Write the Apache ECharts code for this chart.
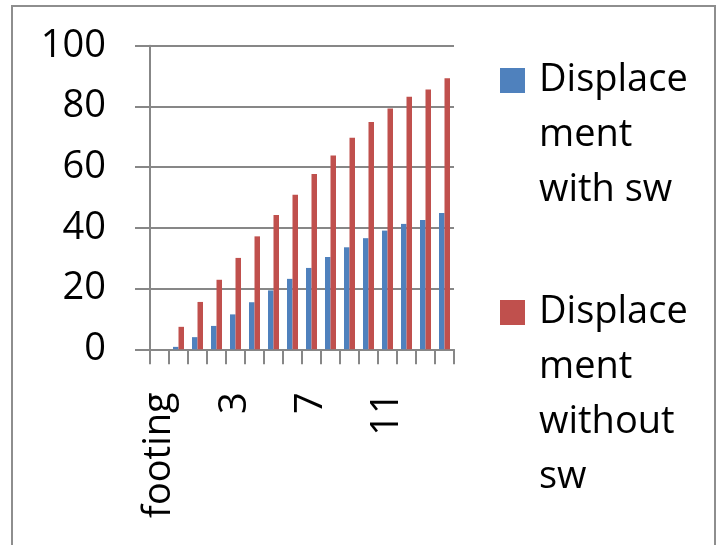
<!DOCTYPE html>
<html>
<head>
<meta charset="utf-8">
<script src="https://cdn.jsdelivr.net/npm/echarts@6/dist/echarts.min.js"></script>
<style>
html, body { margin: 0; padding: 0; background: #fff; }
#chart { width: 718px; height: 545px; }
</style>
</head>
<body>
<div id="chart"></div>
<script>
// 类别
let categories = ['footing', '0', '1', '2', '3', '4', '5', '6', '7', '8', '9', '10', '11', '12', '13', '14']
// 数据
let withSw = [0, 0.8, 4, 7.7, 11.5, 15.5, 19.4, 23.2, 26.8, 30.4, 33.6, 36.6, 39.1, 41.3, 42.6, 44.9]
let withoutSw = [0, 7.4, 15.6, 22.9, 30.1, 37.2, 44.2, 50.9, 57.7, 63.8, 69.7, 74.9, 79.3, 83.2, 85.6, 89.3]
let yTicks = [0, 20, 40, 60, 80, 100]

let names = ['Displacement with sw', 'Displacement without sw']
// 图例换行
let legendLines = {
	'Displacement with sw': 'Displace\nment\nwith sw',
	'Displacement without sw': 'Displace\nment\nwithout\nsw'
}

let font = '"Open Sans", "Liberation Sans", sans-serif'
let gray = '#878787'

let chart = echarts.init(document.getElementById('chart'))

// 图例图标: 方块在上, 右下角一个极小点撑开尺寸
let icon = h => `path://M0,0H25V25H0Z M33.99,${h - 0.01}H34V${h}H33.99Z`

let makeLegend = (name, h, top) => ({
	data: [{ name: name, icon: icon(h) }],
	left: 500,
	top: top,
	padding: 0,
	itemWidth: 34,
	itemHeight: h,
	selectedMode: false,
	formatter: n => legendLines[n],
	textStyle: { fontFamily: font, fontSize: 38, lineHeight: 55, color: '#000' }
})

chart.setOption({
	backgroundColor: '#fff',
	animation: false,
	graphic: [{
		type: 'rect',
		shape: { x: 12, y: 6, width: 703, height: 560 },
		style: { fill: 'none', stroke: '#8e8e8e', lineWidth: 2 },
		silent: true
	}],
	legend: [
		makeLegend(names[0], 135, 53),
		makeLegend(names[1], 190, 285)
	],
	grid: { left: 150, right: 264, top: 45.7, bottom: 195.7, containLabel: false, outerBoundsMode: 'none' },
	xAxis: {
		type: 'category',
		data: categories,
		boundaryGap: true,
		axisLine: { lineStyle: { color: gray, width: 2 } },
		axisTick: { show: true, interval: 0, length: 15, lineStyle: { color: gray, width: 2 } },
		axisLabel: {
			interval: 3,
			rotate: 90,
			margin: 43,
			fontFamily: font,
			fontSize: 38,
			color: '#000'
		}
	},
	yAxis: {
		type: 'value',
		min: yTicks[0],
		max: yTicks[yTicks.length - 1],
		interval: yTicks[1] - yTicks[0],
		axisLine: { show: true, lineStyle: { color: gray, width: 2 } },
		axisTick: { show: true, length: 15, lineStyle: { color: gray, width: 2 } },
		splitLine: { lineStyle: { color: gray, width: 2 } },
		axisLabel: { margin: 44, fontFamily: font, fontSize: 38, color: '#000' }
	},
	series: [
		{
			name: names[0],
			type: 'bar',
			data: withSw,
			barWidth: 5.5,
			barGap: '0%',
			itemStyle: { color: '#4F81BD' }
		},
		{
			name: names[1],
			type: 'bar',
			data: withoutSw,
			barWidth: 5.5,
			barGap: '0%',
			itemStyle: { color: '#C0504D' }
		}
	]
})
</script>
</body>
</html>
